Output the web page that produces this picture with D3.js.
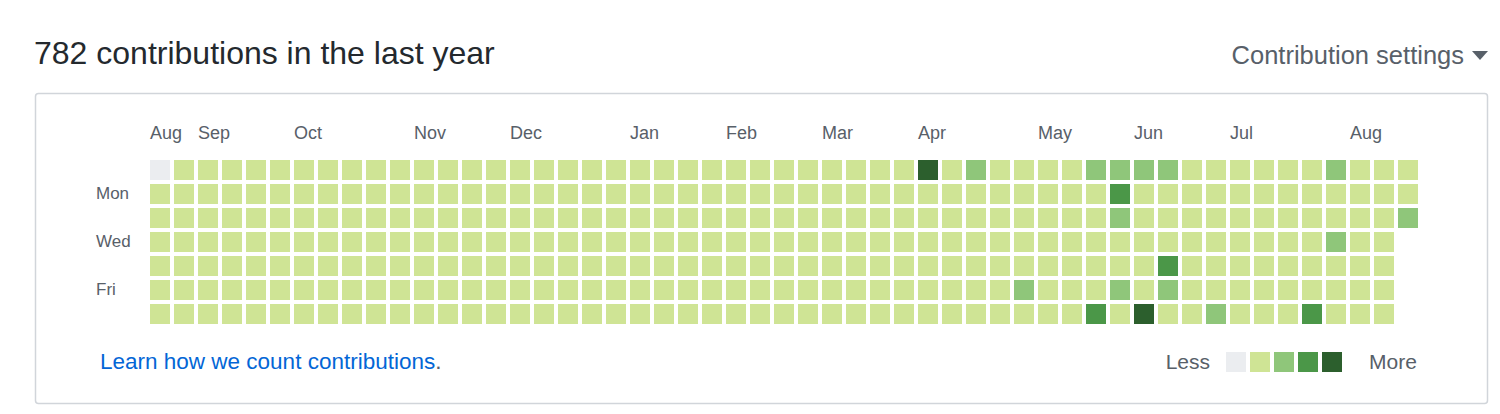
<!DOCTYPE html>
<html>
<head>
<meta charset="utf-8">
<script src="https://cdn.jsdelivr.net/npm/d3@7"></script>
<style>
  body { margin: 0; background: #fff; font-family: "Liberation Sans", "Helvetica Neue", Arial, sans-serif; }
</style>
</head>
<body>
<svg id="chart" width="1500" height="414"></svg>
<script>
// data
var title = "782 contributions in the last year";
var months = ["Aug", "Sep", "Oct", "Nov", "Dec", "Jan", "Feb", "Mar", "Apr", "May", "Jun", "Jul", "Aug"];
var monthWeeks = [0, 2, 6, 11, 15, 20, 24, 28, 32, 37, 41, 45, 50];
var dayLabels = ["", "Mon", "", "Wed", "", "Fri", ""];
var weekCount = 53;
var lastWeekDays = 3;
// [week, day, level]; everything else is level 1, first cell level 0
var special = [
  [0, 0, 0],
  [32, 0, 4], [34, 0, 2], [39, 0, 2], [40, 0, 2], [41, 0, 2], [42, 0, 2], [49, 0, 2],
  [40, 1, 3],
  [40, 2, 2], [52, 2, 2],
  [49, 3, 2],
  [42, 4, 3],
  [36, 5, 2], [40, 5, 2], [42, 5, 2],
  [39, 6, 3], [41, 6, 4], [44, 6, 2], [48, 6, 3]
];
var levels = [0, 1, 2, 3, 4];
var colors = ["#ebedf0", "#cfe495", "#8fc67a", "#4b9748", "#2c5f2d"];

var cells = [];
var lookup = {};
special.forEach(function(s) { lookup[s[0] + "-" + s[1]] = s[2]; });
for (var w = 0; w < weekCount; w++) {
  var nd = (w === weekCount - 1) ? lastWeekDays : 7;
  for (var d = 0; d < nd; d++) {
    var k = w + "-" + d;
    cells.push({ week: w, day: d, level: lookup[k] !== undefined ? lookup[k] : 1 });
  }
}

var svg = d3.select("#chart");

svg.append("text").attr("x", 34).attr("y", 64)
   .style("font-size", "32px").attr("fill", "#24292e").text(title);

svg.append("text").attr("x", 1464).attr("y", 64).attr("text-anchor", "end")
   .style("font-size", "25.5px").attr("fill", "#586069").text("Contribution settings");
svg.append("path").attr("d", "M1472,51 L1488,51 L1480,60 Z").attr("fill", "#586069");

svg.append("rect").attr("x", 35.5).attr("y", 93.5).attr("width", 1452).attr("height", 310)
   .attr("fill", "none").attr("stroke", "#d1d5da").attr("stroke-width", 1.5).attr("rx", 3);

var x = d3.scaleBand().domain(d3.range(weekCount)).range([150, 150 + 24 * weekCount - 4]).paddingInner(4 / 24);
var y = d3.scaleBand().domain(d3.range(7)).range([160, 160 + 24 * 7 - 4]).paddingInner(4 / 24);
var color = d3.scaleOrdinal().domain(levels).range(colors);

svg.append("g").selectAll("rect").data(cells).enter().append("rect")
   .attr("x", function(c) { return x(c.week); })
   .attr("y", function(c) { return y(c.day); })
   .attr("width", x.bandwidth()).attr("height", y.bandwidth())
   .attr("fill", function(c) { return color(c.level); });

svg.append("g").selectAll("text").data(months).enter().append("text")
   .attr("x", function(m, i) { return x(monthWeeks[i]); })
   .attr("y", 139)
   .style("font-size", "18px").attr("fill", "#586069")
   .text(function(m) { return m; });

svg.append("g").selectAll("text").data(dayLabels).enter().append("text")
   .attr("x", 96)
   .attr("y", function(l, i) { return y(i) + 15; })
   .style("font-size", "17px").attr("fill", "#586069")
   .text(function(l) { return l; });

svg.append("text").attr("x", 100).attr("y", 369)
   .style("font-size", "22.5px").attr("fill", "#0366d6").text("Learn how we count contributions")
   .append("tspan").attr("fill", "#586069").text(".");

var lx = d3.scaleBand().domain(levels).range([1226, 1226 + 24 * 5 - 4]).paddingInner(4 / 24);
svg.append("text").attr("x", 1210).attr("y", 369).attr("text-anchor", "end")
   .style("font-size", "21px").attr("fill", "#586069").text("Less");
svg.append("g").selectAll("rect").data(levels).enter().append("rect")
   .attr("x", function(l) { return lx(l); }).attr("y", 352)
   .attr("width", lx.bandwidth()).attr("height", 20)
   .attr("fill", function(l) { return color(l); });
svg.append("text").attr("x", 1369).attr("y", 369)
   .style("font-size", "21px").attr("fill", "#586069").text("More");
</script>
</body>
</html>
